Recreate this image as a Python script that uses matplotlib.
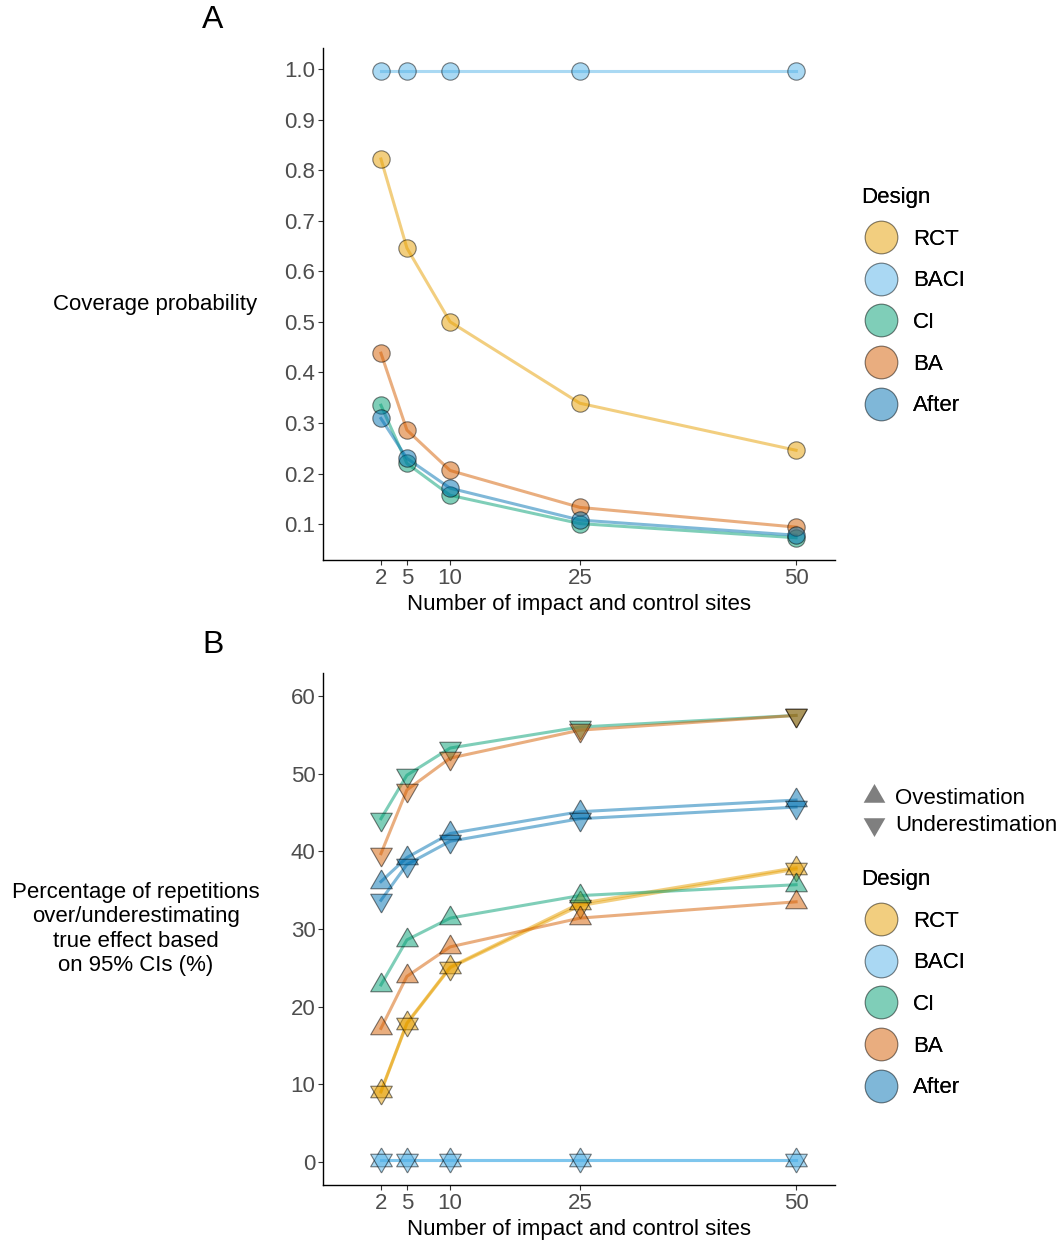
import matplotlib
matplotlib.use("Agg")
from matplotlib import pyplot as plt
from matplotlib.lines import Line2D
import numpy as np

plt.rcParams['font.family'] = ['Liberation Sans', 'DejaVu Sans']

sites = [2, 5, 10, 25, 50]
designs = ["RCT", "BACI", "CI", "BA", "After"]
colors = ["#E69F00", "#56B4E9", "#009E73", "#D55E00", "#0072B2"]

# panel A: coverage probability
cov_rct = [0.822, 0.646, 0.500, 0.339, 0.246]
cov_baci = [0.996, 0.996, 0.996, 0.996, 0.996]
cov_ci = [0.335, 0.220, 0.157, 0.101, 0.073]
cov_ba = [0.438, 0.286, 0.206, 0.133, 0.094]
cov_after = [0.309, 0.230, 0.171, 0.108, 0.078]

# panel B: % over / under estimating
over_rct = [9.1, 17.9, 25.1, 33.3, 37.9]
under_rct = [9.0, 17.8, 25.0, 33.0, 37.7]
over_baci = [0.3, 0.3, 0.3, 0.3, 0.3]
under_baci = [0.3, 0.3, 0.3, 0.3, 0.3]
over_ci = [22.8, 28.6, 31.4, 34.3, 35.7]
under_ci = [44.2, 49.8, 53.3, 56.0, 57.5]
over_ba = [17.2, 23.9, 27.7, 31.4, 33.5]
under_ba = [39.7, 47.9, 52.0, 55.6, 57.5]
over_after = [36.1, 39.2, 42.3, 45.1, 46.6]
under_after = [33.7, 38.3, 41.3, 44.2, 45.7]

cov = [cov_rct, cov_baci, cov_ci, cov_ba, cov_after]
over = [over_rct, over_baci, over_ci, over_ba, over_after]
under = [under_rct, under_baci, under_ci, under_ba, under_after]

# equilateral triangles like ggplot shapes 24/25
tri_up = [(0, 0.577), (-0.5, -0.289), (0.5, -0.289), (0, 0.577)]
tri_down = [(0, -0.577), (-0.5, 0.289), (0.5, 0.289), (0, -0.577)]

alpha = 0.5
edge = (0, 0, 0, 0.5)
FS = 16

fig = plt.figure(figsize=(10.62, 12.4), dpi=100)
axA = fig.add_axes([323/1062, 1-560/1240, 512/1062, 512/1240])
axB = fig.add_axes([323/1062, 1-1185/1240, 512/1062, 512/1240])


def style(ax):
    for s in ["top", "right"]:
        ax.spines[s].set_visible(False)
    for s in ["left", "bottom"]:
        ax.spines[s].set_linewidth(1.0)
    ax.tick_params(labelsize=FS, labelcolor="#4D4D4D", color="#333333", length=3.5, width=0.8, pad=2)
    ax.set_xticks(sites)
    ax.set_xlim(-4.7, 54.5)
    ax.set_xlabel("Number of impact and control sites", fontsize=FS, labelpad=4)


# ---- A
for i in range(len(designs)):
    axA.plot(sites, cov[i], color=colors[i], alpha=alpha, lw=2.2, zorder=2)
for i in range(len(designs)):
    axA.plot(sites, cov[i], ls="none", marker="o", ms=12.5,
             mfc=matplotlib.colors.to_rgba(colors[i], alpha), mec=edge, mew=0.8, zorder=3)
style(axA)
axA.set_ylim(0.029, 1.0415)
axA.set_yticks(np.arange(0.1, 1.01, 0.1))
axA.set_yticklabels(["%.1f" % v for v in np.arange(0.1, 1.01, 0.1)])
axA.set_ylabel("Coverage probability", fontsize=FS, rotation=0, ha="center", va="center")
axA.yaxis.set_label_coords(-0.328, 0.5)

# ---- B
for i in range(len(designs)):
    axB.plot(sites, over[i], color=colors[i], alpha=alpha, lw=2.2, zorder=2)
    axB.plot(sites, under[i], color=colors[i], alpha=alpha, lw=2.2, zorder=2)
for i in range(len(designs)):
    fc = matplotlib.colors.to_rgba(colors[i], alpha)
    axB.plot(sites, over[i], ls="none", marker=tri_up, ms=18, mfc=fc, mec=edge, mew=0.8, zorder=3)
    axB.plot(sites, under[i], ls="none", marker=tri_down, ms=18, mfc=fc, mec=edge, mew=0.8, zorder=3)
style(axB)
axB.set_ylim(-2.96, 62.96)
axB.set_yticks([0, 10, 20, 30, 40, 50, 60])
axB.set_ylabel("Percentage of repetitions\nover/underestimating\ntrue effect based\non 95% CIs (%)",
               fontsize=FS, rotation=0, ha="center", va="center", linespacing=1.22)
axB.yaxis.set_label_coords(-0.365, 0.5)

# panel letters
fig.text(213/1062, 1-20/1240, "A", fontsize=23, ha="center", va="center")
fig.text(213/1062, 1-645/1240, "B", fontsize=23, ha="center", va="center")

# legends (legend draws the marker twice, so halve the opacity)
la = 1 - np.sqrt(1 - alpha)
design_handles = [Line2D([], [], ls="none", marker="o", ms=23.5,
                         mfc=matplotlib.colors.to_rgba(c, la), mec=(0, 0, 0, la), mew=0.8)
                  for c in colors]


def design_legend(y):
    leg = fig.legend(design_handles, designs, title="Design", loc="upper left",
                     bbox_to_anchor=(850/1062, 1-y/1240), frameon=False, fontsize=FS,
                     title_fontsize=FS, labelspacing=0.93, handletextpad=0.54,
                     borderpad=0, handlelength=1.8, alignment="left")
    return leg


legA = design_legend(176)
fig.add_artist(legA)
legB = design_legend(858)
fig.add_artist(legB)

shape_handles = [Line2D([], [], ls="none", marker=tri_up, ms=18, mfc="#7F7F7F", mec="none"),
                 Line2D([], [], ls="none", marker=tri_down, ms=18, mfc="#7F7F7F", mec="none")]
fig.legend(shape_handles, ["Ovestimation", "Underestimation"], loc="upper left",
           bbox_to_anchor=(852/1062, 1-777/1240), frameon=False, fontsize=FS,
           labelspacing=0.28, handletextpad=0.45, borderpad=0, handlelength=1.0)

fig.savefig("out.png", dpi=100)
